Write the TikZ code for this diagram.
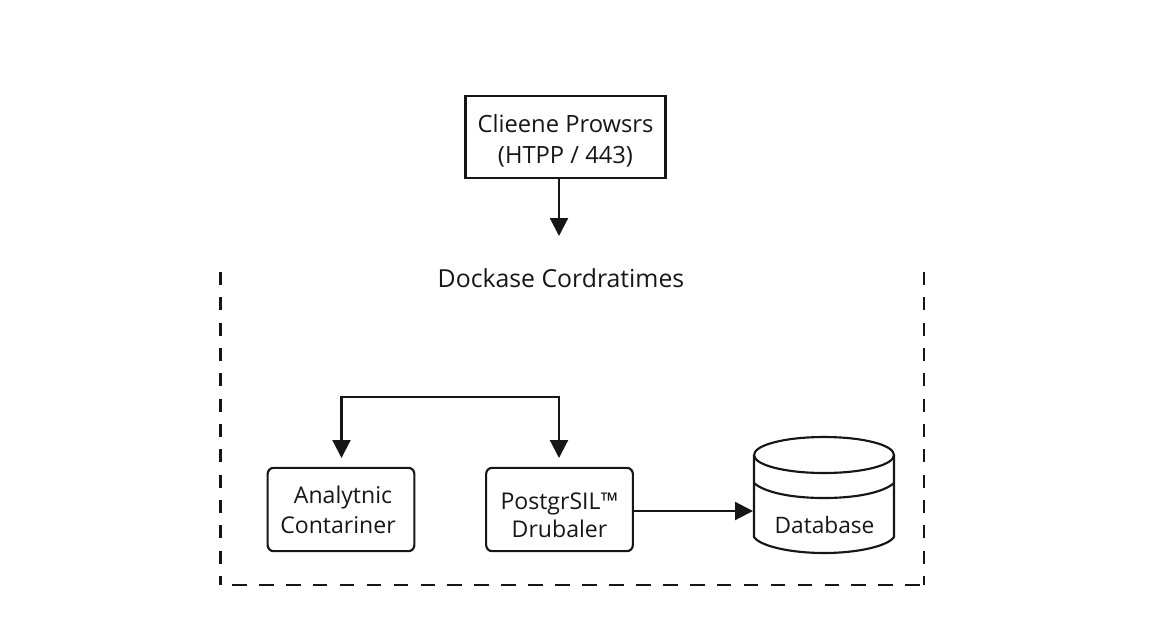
\documentclass[tikz,border=0pt]{standalone}
\usepackage{fontspec}
\setmainfont{Open Sans}
\usetikzlibrary{arrows.meta}
\definecolor{ink}{HTML}{161616}
\tikzset{
  boxshape/.style={draw=ink,line width=1.6pt,inner sep=0pt,align=center,text=ink,font=\fontsize{17.3}{22.5}\selectfont},
  plainbox/.style={boxshape,minimum width=150pt,minimum height=61pt,font=\fontsize{17.8}{22.5}\selectfont},
  softbox/.style={boxshape,rounded corners=4.5pt,minimum width=110pt,minimum height=62.5pt},
  wire/.style={draw=ink,line width=1.6pt},
  flow/.style={wire,-{Triangle[length=13.5pt,width=13.5pt]}},
  border/.style={draw=ink,line width=1.8pt},
  caption/.style={text=ink,inner sep=0pt,font=\fontsize{17}{22.5}\selectfont},
  headline/.style={caption,font=\fontsize{18.6}{22.5}\selectfont}
}
\begin{document}
\begin{tikzpicture}[x=0.75pt,y=-0.75pt]
\useasboundingbox (0,0) rectangle (1152,640);
% nodes
\node[plainbox] (client) at (565.5,137) {\rule{0pt}{19.3pt}Clieene Prowsrs\\[0.5pt](HTPP / 443)};
\node[softbox] (analytic) at (341,509.5) {\hspace*{3pt}Analytnic\\Contariner\hspace*{4.5pt}};
\node[softbox] (driver) at (559.5,509.5) {\rule{0pt}{21.5pt}PostgrSIL™\\[-1.5pt]Drubaler};
\node[headline] (title) at (561,278) {Dockase Cordratimes};
\coordinate (clienttip) at (559,236);
\coordinate (bus) at (450,397);
\coordinate (analytictip) at (341.5,458);
\coordinate (drivertip) at (559,458);
\coordinate (dbtip) at (753,511);
% dashed frame
\draw[border,dash pattern=on 9.8pt off 9.2pt] (220.5,272) -- (220.5,585);
\draw[border,dash pattern=on 9.8pt off 9.2pt] (924,272) -- (924,585);
\draw[border,dash pattern=on 11pt off 9.2pt] (232,585) -- (924,585);
% database
\draw[wire,fill=white] (754,455) -- (754,537) .. controls (760,546) and (790,553) .. (824,553) .. controls (858,553) and (888,546) .. (894,537) -- (894,455);
\draw[wire] (754,455) .. controls (754,445) and (785,437) .. (824,437) .. controls (863,437) and (894,445) .. (894,455) .. controls (894,465) and (863,473) .. (824,473) .. controls (785,473) and (754,465) .. (754,455);
\draw[wire] (754,483) .. controls (764,492) and (790,498) .. (824,498) .. controls (858,498) and (884,492) .. (894,483);
\node[caption] (dblabel) at (824.5,525) {Database};
% connectors
\draw[flow] (client.south -| clienttip) -- (clienttip);
\draw[flow] (bus) -| (analytictip);
\draw[flow] (bus) -| (drivertip);
\draw[flow] (driver.east |- dbtip) -- (dbtip);
\end{tikzpicture}
\end{document}
